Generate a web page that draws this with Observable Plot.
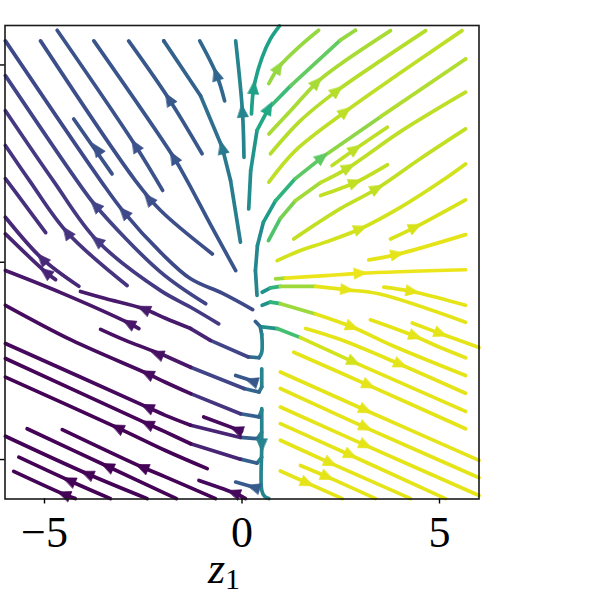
<!DOCTYPE html>
<html><head><meta charset="utf-8">
<script src="https://cdn.jsdelivr.net/npm/d3@7"></script>
<script src="https://cdn.jsdelivr.net/npm/@observablehq/plot@0.6"></script>
<style>body{margin:0;background:#fff;}</style>
</head><body><div id="chart"></div>
<script>
// Streamlines, in data units (z1, z2), ordered downstream.
const lineX = [
 [0.27,-0.49,-1.30,-2.06,-2.99,-3.58,-5.99],
 [-0.75,-2.06,-2.70,-5.10],
 [-2.01,-2.70,-4.68],
 [-0.16,-0.80,-1.39,-1.73,-3.75],
 [-1.01,-1.85,-2.87],
 [-0.04,-0.29,-0.50,-1.05,-1.98],
 [-0.44,-0.65,-1.07],
 [0.05,0.01,-0.16],
 [0.24,0.30,0.51,0.72,0.95],
 [0.17,0.22,0.38,0.68,1.23,2.49,2.87],
 [0.68,0.93,1.48,1.94],
 [0.68,1.23,1.90,2.49,3.76],
 [0.72,1.48,2.41,3.51,4.65],
 [0.68,1.35,2.62,4.01,5.57],
 [0.38,0.34,0.39,0.54,0.85,1.35,2.03,3.51,5.66],
 [0.67,0.97,1.35,1.99,2.70,4.01,5.66],
 [2.28,2.87,3.68],
 [1.99,2.49,2.87,3.68],
 [1.31,1.86,2.49,3.42,4.52,5.66],
 [0.89,1.48,2.11,3.00,4.01,5.07,5.66],
 [3.76,4.39,5.66],
 [3.21,3.93,5.66],
 [0.85,1.10,2.11,3.00,5.66],
 [0.51,0.72,0.97,1.86,2.66,3.46,5.66],
 [3.59,4.31,5.66],
 [0.51,0.72,0.97,1.86,2.79,3.80,5.66],
 [3.25,4.39,4.90,5.66],
 [4.31,5.03,6.0],
 [1.61,2.49,4.01,5.66],
 [0.51,0.89,1.48,2.83,5.66],
 [1.31,3.21,5.66],
 [0.97,3.13,6.0],
 [0.97,3.13,6.0],
 [0.97,3.13,6.0],
 [0.97,2.75,5.15],
 [0.97,2.24,4.27],
 [1.48,2.16,3.38],
 [0.97,2.54],
 [0.5,0.5,0.5,0.57,0.68],
 [0.34,0.46,0.5,0.5,0.43,0.16,-0.80,-1.30,-1.94,-2.49,-3.46,-4.09],
 [0.5,0.5,0.43,0.05,-1.30,-2.06,-2.95,-3.58],
 [0.5,0.43,-0.04,-1.30,-1.94,-2.40,-4.30,-5.99],
 [0.5,0.39,-0.04,-1.30,-1.94,-2.40,-5.99],
 [0.5,0.38,-0.04,-1.30,-1.94,-2.40,-5.99],
 [-0.88,-1.94,-3.16,-5.99],
 [-0.67,-1.94,-2.53,-4.55],
 [-1.66,-3.41,-5.44],
 [-2.40,-3.92,-5.99],
 [-3.33,-4.38,-5.65],
 [-4.22,-4.51,-5.78],
 [0.09,-0.12,-1.09],
 [0.39,-0.16],
 [-0.01,-0.97],
 [0.34,-0.16],
 [-0.92,-2.06,-3.71,-4.18,-5.99],
 [-0.59,-1.30,-2.06,-3.67,-4.78,-5.99],
 [-2.91,-4.43,-5.38,-5.99],
 [-4.97,-5.61,-5.99],
 [-4.13,-5.06,-5.99],
 [-4.72,-4.97,-5.99],
 [-2.61,-2.87,-4.59,-5.99],
 [-3.29,-4.26]
];
const lineY = [
 [-1.20,-0.79,-0.42,0.25,1.27,2.07,5.61],
 [0.21,1.31,2.07,5.61],
 [1.82,2.96,5.88],
 [-0.21,0.96,2.07,2.66,5.61],
 [2.75,4.14,5.61],
 [0.51,2.07,2.91,4.22,5.61],
 [4.09,4.77,5.61],
 [2.66,3.84,5.61],
 [3.76,4.43,5.19,5.66,5.99],
 [1.35,2.32,3.34,3.91,4.47,5.63,5.88],
 [4.53,4.94,5.49,5.88],
 [3.25,3.84,4.56,5.02,5.87],
 [2.75,3.59,4.35,5.11,5.87],
 [2.03,2.83,3.82,4.80,5.87],
 [-0.84,-0.21,0.42,1.01,1.56,2.12,2.66,3.69,5.15],
 [0.55,1.11,1.56,2.02,2.40,3.31,4.31],
 [2.45,2.87,3.42],
 [1.69,1.87,2.02,2.47],
 [0.59,0.96,1.36,1.87,2.63,3.38],
 [0.04,0.30,0.51,0.85,1.39,2.07,2.49],
 [0.59,0.89,1.58],
 [0.06,0.20,0.70],
 [-0.42,-0.40,-0.34,-0.28,-0.19],
 [-0.76,-0.65,-0.61,-0.61,-0.70,-0.80,-1.52],
 [-0.63,-0.74,-1.09],
 [-1.09,-1.01,-1.05,-1.31,-1.64,-2.11,-2.87],
 [-1.46,-1.88,-2.11,-2.42],
 [-1.54,-1.81,-2.16],
 [-1.68,-1.96,-2.59,-3.32],
 [-1.64,-1.68,-1.91,-2.53,-3.78],
 [-2.28,-3.12,-4.22],
 [-2.78,-3.75,-5.02],
 [-3.20,-4.19,-5.46],
 [-3.67,-4.64,-5.91],
 [-4.09,-4.89,-5.99],
 [-4.51,-5.09,-5.99],
 [-5.15,-5.44,-5.99],
 [-5.29,-5.99],
 [-3.71,-4.64,-5.78,-5.93,-5.99],
 [-1.50,-1.63,-1.83,-2.28,-2.42,-2.40,-1.98,-1.68,-1.42,-1.18,-0.92,-0.74],
 [-2.70,-3.16,-3.29,-3.20,-2.66,-2.32,-1.98,-1.70],
 [-3.75,-3.92,-3.84,-3.33,-3.04,-2.82,-1.98,-1.09],
 [-4.31,-4.47,-4.44,-4.13,-3.88,-3.67,-2.06],
 [-4.94,-5.09,-4.99,-4.60,-4.30,-4.09,-2.44],
 [-5.23,-4.77,-4.19,-2.91],
 [-5.99,-5.44,-5.19,-4.24],
 [-5.99,-5.17,-4.22],
 [-5.99,-5.36,-4.41],
 [-5.99,-5.53,-4.94],
 [-5.99,-5.88,-5.30],
 [-5.99,-5.88,-5.53],
 [-5.73,-5.57],
 [-4.28,-3.92],
 [-3.03,-2.87],
 [-1.05,-0.25,1.44,2.07,4.73],
 [-1.56,-1.14,-0.72,0.55,2.07,3.84],
 [-0.59,0.76,2.07,2.96],
 [0.75,1.61,2.12],
 [-0.61,0.09,1.14],
 [-0.44,-0.25,0.72],
 [-1.68,-1.54,-0.77,-0.21],
 [2.24,3.63]
];
// colour value (0..1 on viridis) per line, or per point
const lineC = [
 0.22, 0.24, 0.25, 0.26, 0.27, [0.42,0.4,0.36,0.31,0.27], 0.33, 0.45, 0.57,
 [0.48,0.52,0.6,0.68,0.76,0.84,0.85], 0.84, 0.87, 0.89, 0.9,
 [0.45,0.46,0.48,0.55,0.65,0.75,0.83,0.88,0.9], [0.72,0.8,0.86,0.9,0.9,0.9,0.9],
 0.9, 0.91, 0.91, 0.93, 0.94, 0.96, [0.85,0.97,0.97,0.97,0.97],
 [0.5,0.65,0.85,0.96,0.96,0.96,0.96], 0.96, [0.5,0.65,0.85,0.96,0.96,0.96,0.96],
 0.96, 0.96, 0.96, [0.5,0.7,0.93,0.96,0.96],
 0.96, 0.96, 0.96, 0.96, 0.96, 0.96, 0.96, 0.96,
 0.45,
 [0.3,0.4,0.45,0.45,0.35,0.2,0.1,0.07,0.07,0.07,0.07,0.07],
 [0.45,0.42,0.32,0.2,0.06,0.04,0.04,0.04],
 [0.45,0.3,0.15,0.03,0.03,0.03,0.03,0.03],
 [0.45,0.3,0.1,0.02,0.02,0.02,0.02],
 [0.45,0.3,0.1,0.01,0.01,0.01,0.01],
 0.005, 0.005, 0.005, 0.005, 0.005, 0.005,
 0.02, 0.28, 0.03, 0.27,
 0.2, 0.17, 0.15, 0.14, 0.11, 0.1, 0.06, 0.25
];
// arrowheads: position and the streamline they sit on
const arrowX = [-2.99,-2.36,-2.70,-1.73,-1.85,-0.50,-0.65,0.01,0.30,0.68,0.93,1.90,2.41,2.62,2.03,2.70,2.87,2.87,3.42,3.00,4.39,3.93,3.00,2.66,4.31,2.79,4.39,5.03,4.01,2.83,3.21,3.13,3.13,3.13,2.75,2.24,2.16,1.65,0.5,-2.49,-2.15,-2.40,-2.40,-2.40,-3.16,-2.53,-3.41,-3.92,-4.38,-4.51,-0.21,0.29,-0.14,0.24,-3.71,-3.67,-4.43,-5.06,-4.97,-2.87,-3.67];
const arrowY = [1.27,1.61,2.96,2.66,4.14,2.91,4.77,3.84,4.43,3.91,4.94,4.56,4.35,3.82,2.66,2.40,2.87,2.02,1.87,0.85,0.89,0.20,-0.28,-0.70,-0.74,-1.64,-1.88,-1.81,-2.59,-2.53,-3.12,-3.75,-4.19,-4.64,-4.89,-5.09,-5.44,-5.60,-4.64,-1.18,-2.32,-2.82,-3.67,-4.09,-4.19,-5.19,-5.17,-5.36,-5.53,-5.88,-5.84,-5.70,-4.24,-3.01,1.44,0.55,0.76,0.09,-0.25,-1.54,2.87];
const arrowLine = [0,1,2,3,4,5,6,7,8,9,10,11,12,13,14,15,16,17,18,19,20,21,22,23,24,25,26,27,28,29,30,31,32,33,34,35,36,37,38,39,40,41,42,43,44,45,46,47,48,49,50,51,52,53,54,55,56,58,59,60,61];
const xTicks = [-5, 0, 5];
const yTicks = [-5, 0, 5];
const xLabelMain = "z", xLabelSub = "1";

const colorAt = (k, i) => Array.isArray(lineC[k]) ? lineC[k][i] : lineC[k];
const rows = [];
lineX.forEach((xs, k) => xs.forEach((x, i) => rows.push({id: k, x, y: lineY[k][i], c: colorAt(k, i)})));

const arrows = arrowX.map((ax, n) => {
  const ay = arrowY[n], k = arrowLine[n], xs = lineX[k], ys = lineY[k];
  let best = 0, bd = Infinity;
  for (let j = 0; j < xs.length - 1; j++) {
    const vx = xs[j+1]-xs[j], vy = ys[j+1]-ys[j];
    const L2 = vx*vx + vy*vy || 1e-9;
    let t = ((ax-xs[j])*vx + (ay-ys[j])*vy) / L2; t = Math.max(0, Math.min(1, t));
    const d = Math.hypot(xs[j]+t*vx-ax, ys[j]+t*vy-ay);
    if (d < bd) { bd = d; best = j; }
  }
  const dx = xs[best+1]-xs[best], dy = ys[best+1]-ys[best];
  return {x: ax, y: ay, rot: Math.atan2(dx, dy) * 180 / Math.PI, c: colorAt(k, best)};
});

const triangle = {draw(ctx, l, r) { ctx.moveTo(0, -l); ctx.lineTo(r, 0); ctx.lineTo(-r, 0); ctx.closePath(); }};
function arrowMark(shape) {
  return Plot.vector(arrows, {x: "x", y: "y", rotate: "rot", length: 13, r: 5.5, shape, anchor: "middle", fill: "c", stroke: "c", strokeWidth: 0.6});
}
let am;
try { am = arrowMark(triangle); } catch (e) { am = arrowMark("spike"); }

const fmt = d => d < 0 ? "\u2212" + Math.abs(d) : String(d);

const svg = Plot.plot({
  width: 597, height: 598,
  marginTop: 25, marginRight: 118.5, marginBottom: 99.5, marginLeft: 4.5,
  x: {domain: [-6, 6]},
  y: {domain: [-6, 6]},
  color: {type: "linear", scheme: "viridis", domain: [0, 1]},
  style: {fontFamily: "'Liberation Serif', 'DejaVu Serif', serif", fontSize: "44px", background: "white", color: "black"},
  marks: [
    Plot.line(rows, {x: "x", y: "y", z: "id", stroke: "c", strokeWidth: 3.7, curve: "catmull-rom", strokeLinecap: "round", strokeLinejoin: "round"}),
    am,
    Plot.frame({stroke: "#1a1a1a", strokeWidth: 1.6}),
    Plot.axisX({ticks: xTicks, tickSize: 5, tickPadding: 12, tickFormat: fmt, label: null, strokeWidth: 1.4}),
    Plot.axisY({ticks: yTicks, tickSize: 5, tickFormat: () => "", label: null, strokeWidth: 1.4})
  ]
});
const lab = d3.select(svg).append("text")
  .attr("x", 224).attr("y", 583)
  .attr("font-family", "'Liberation Serif', 'DejaVu Serif', serif")
  .attr("font-size", 44).attr("fill", "black");
lab.append("tspan").attr("font-style", "italic").text(xLabelMain);
lab.append("tspan").attr("font-size", 30).attr("dy", 6).text(xLabelSub);
document.getElementById("chart").appendChild(svg);
</script>
</body></html>
